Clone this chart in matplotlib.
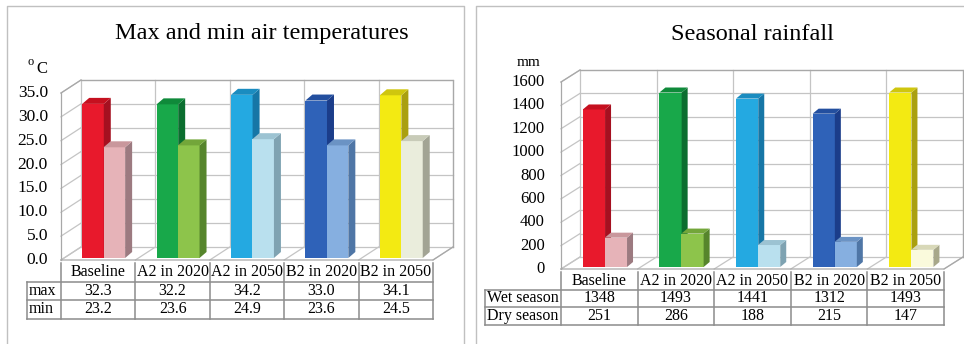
import numpy as np
import matplotlib
matplotlib.use("Agg")
import matplotlib.pyplot as plt
from matplotlib.patches import Polygon

plt.rcParams['font.family'] = ['Liberation Serif', 'DejaVu Serif']

# scenario names shared by both charts
scenarios = ["Baseline", "A2 in 2020", "A2 in 2050", "B2 in 2020", "B2 in 2050"]

# air temperatures (deg C)
temp_max = [32.3, 32.2, 34.2, 33.0, 34.1]
temp_min = [23.2, 23.6, 24.9, 23.6, 24.5]
temp_ticks = [0, 5, 10, 15, 20, 25, 30, 35]

# seasonal rainfall (mm)
rain_wet = [1348, 1493, 1441, 1312, 1493]
rain_dry = [251, 286, 188, 215, 147]
rain_ticks = [0, 200, 400, 600, 800, 1000, 1200, 1400, 1600]

# (front, side, top) colours per scenario
dark_cols = [("#e8192c", "#a51020", "#c5101f"),
             ("#18a84a", "#0b6e2f", "#0f8a3a"),
             ("#24a9e1", "#1676a6", "#1a8cc0"),
             ("#2f62b8", "#1b3d8a", "#234f9f"),
             ("#f3ea12", "#aaa010", "#cfc60e")]
light_temp = [("#e6b3b8", "#9c7a80", "#c9979c"),
              ("#8dc44b", "#56852c", "#73a63a"),
              ("#b9e0ee", "#7fa3b2", "#9cc3d2"),
              ("#86afe0", "#4f76a6", "#6b93c4"),
              ("#eaeddc", "#a2a494", "#c8cbb8")]
light_rain = [("#e6b3b8", "#9c7a80", "#c9979c"),
              ("#8dc44b", "#56852c", "#73a63a"),
              ("#b9e0ee", "#7fa3b2", "#9cc3d2"),
              ("#86afe0", "#4f76a6", "#6b93c4"),
              ("#fafadc", "#a8a88a", "#d8d8b8")]

W, H = 964, 344
fig = plt.figure(figsize=(W / 100, H / 100), dpi=100)
fig.patch.set_facecolor("white")

# pixel-space layer for frames, titles and tables
over = fig.add_axes([0, 0, 1, 1])
over.set_xlim(0, W)
over.set_ylim(H, 0)
over.axis("off")

GRID = "#c4c4c4"
EDGE = "#a8a8a8"
TABLE = "#8c8c8c"


def draw_panel(left, right, y0, ytop, ymax, ticks, fmt, series, colours,
               wall_px, side_px, tick_x, tick_fs, row_names, label_left, row_h, fs):
    ax = fig.add_axes([left / W, 1 - y0 / H, (right - left) / W, (y0 - ytop) / H])
    ax.set_xlim(-0.5, 4.5)
    ax.set_ylim(0, ymax)
    ax.axis("off")
    n = len(scenarios)
    pxcat = (right - left) / n
    pxval = (y0 - ytop) / ymax
    # depth offsets, given in pixels (right, up)
    wdx, wdy = wall_px[0] / pxcat, wall_px[1] / pxval
    sdx, sdy = side_px[0] / pxcat, side_px[1] / pxval

    # back wall, side wall and floor
    for t in ticks:
        ax.plot([-0.5 + wdx, 4.5 + wdx], [t + wdy, t + wdy], color=GRID, lw=0.9,
                zorder=0.5, clip_on=False)
        ax.plot([-0.5, -0.5 + wdx], [t, t + wdy], color=GRID, lw=0.9,
                zorder=0.5, clip_on=False)
    for k in range(n + 1):
        b = -0.5 + k
        ax.plot([b + wdx, b + wdx], [wdy, ymax + wdy], color=GRID, lw=0.9,
                zorder=0.5, clip_on=False)
        ax.plot([b, b + wdx], [0, wdy], color=GRID, lw=0.9, zorder=0.5, clip_on=False)
    ax.plot([-0.5, -0.5], [0, ymax], color=EDGE, lw=0.9, zorder=0.6, clip_on=False)
    ax.plot([-0.5, 4.5, 4.5 + wdx], [0, 0, wdy], color=EDGE, lw=0.9, zorder=0.6,
            clip_on=False)
    ax.plot([-0.5 + wdx, 4.5 + wdx, 4.5 + wdx], [ymax + wdy, ymax + wdy, wdy],
            color=EDGE, lw=0.9, zorder=0.6, clip_on=False)
    ax.plot([-0.5, -0.5 + wdx], [ymax, ymax + wdy], color=EDGE, lw=0.9, zorder=0.6,
            clip_on=False)

    # pseudo-3D bars: front face, right side, top
    bw = 0.29
    offsets = [-0.215, 0.072]
    lift = 2 / pxval
    for i in range(n):
        for vals, off, cols in zip(series, offsets, colours):
            v = vals[i]
            front, side, top = cols[i]
            x0 = i + off
            ax.bar(x0, v, width=bw, bottom=lift, align="edge", color=front, lw=0,
                   zorder=1, clip_on=False)
            ax.add_patch(Polygon([(x0 + bw, lift), (x0 + bw + sdx, lift + sdy),
                                  (x0 + bw + sdx, lift + v + sdy), (x0 + bw, lift + v)],
                                 closed=True, facecolor=side, lw=0, zorder=1,
                                 clip_on=False))
            ax.add_patch(Polygon([(x0, lift + v), (x0 + bw, lift + v),
                                  (x0 + bw + sdx, lift + v + sdy), (x0 + sdx, lift + v + sdy)],
                                 closed=True, facecolor=top, lw=0, zorder=1,
                                 clip_on=False))

    # value axis labels
    for t in ticks:
        over.text(tick_x, y0 - t * pxval, fmt % t, ha="right", va="center",
                  fontsize=tick_fs)

    # data table under the chart
    hdr_top = y0 + 3
    r1 = hdr_top + row_h
    r2 = r1 + row_h
    r3 = r2 + row_h
    for k in range(n + 1):
        x = left + k * pxcat
        over.plot([x, x], [hdr_top, r3], color=TABLE, lw=1.1)
    over.plot([label_left, label_left], [r1, r3], color=TABLE, lw=1.1)
    for y in (r1, r2, r3):
        over.plot([label_left, right], [y, y], color=TABLE, lw=1.1)
    for i, name in enumerate(scenarios):
        cx = left + (i + 0.5) * pxcat
        over.text(cx, (hdr_top + r1) / 2, name, ha="center", va="center", fontsize=fs)
        for r, vals in enumerate(series):
            txt = fmt % vals[i] if "." in fmt else "%d" % vals[i]
            over.text(cx, r1 + (r + 0.5) * row_h, txt, ha="center", va="center",
                      fontsize=fs)
    for r, nm in enumerate(row_names):
        over.text(label_left + 2, r1 + (r + 0.5) * row_h, nm, ha="left",
                  va="center", fontsize=fs)
    return ax


# panel frames
over.plot([7, 7, 464, 464], [H, 6, 6, H], color="#c0c0c0", lw=1.0)
over.plot([476, 476, W], [H, 6, 6], color="#c0c0c0", lw=1.0)

# left: max / min temperatures
over.text(262, 34, "Max and min air temperatures", ha="center", va="center",
          fontsize=17.5)
over.text(31, 62, "o", ha="center", va="center", fontsize=9)
over.text(42, 69, "C", ha="center", va="center", fontsize=12)
draw_panel(61, 433, 260, 93, 35, temp_ticks, "%.1f", [temp_max, temp_min],
           [dark_cols, light_temp], (20, 13), (7, 6), 48, 12.5,
           ["max", "min"], 27, 18.5, 11.5)

# right: seasonal rainfall
over.text(752, 34, "Seasonal rainfall", ha="center", va="center", fontsize=17.5)
over.text(529, 62, "mm", ha="center", va="center", fontsize=11)
draw_panel(561, 944, 269, 82, 1600, rain_ticks, "%d", [rain_wet, rain_dry],
           [dark_cols, light_rain], (19, 12), (6, 5), 545, 12,
           ["Wet season", "Dry season"], 485, 17.5, 11.5)

fig.savefig("out.png", dpi=100, facecolor="white")
